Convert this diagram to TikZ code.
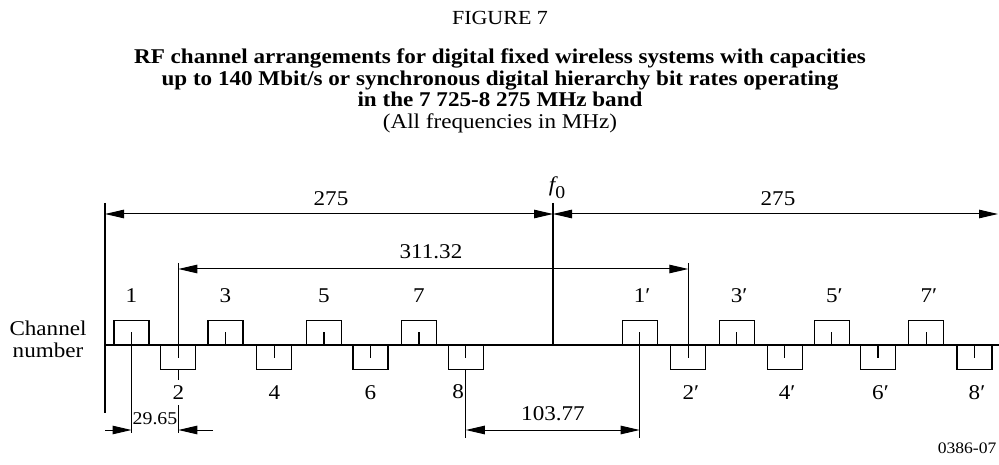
\documentclass[tikz,border=0pt]{standalone}
\usepackage{fontspec}
\setmainfont{Liberation Serif}[FakeStretch=1.1]
\usetikzlibrary{arrows.meta}
% prime that hangs to the right of the channel number
\newcommand\chpr{\rlap{\char"2032}}
\begin{document}
\begin{tikzpicture}[x=1pt,y=-1pt,line width=1.1pt,
  every node/.style={inner sep=0pt,font=\fontsize{21}{22}\selectfont},
  dimline/.style={{Triangle[length=19pt,width=8.5pt]}-{Triangle[length=19pt,width=8.5pt]},line width=1pt},
  onearrow/.style={-{Triangle[length=19pt,width=8.5pt]},line width=1pt},
  chbox/.style={draw,line width=1.1pt,minimum width=35pt,minimum height=24pt},
  upbox/.style={chbox,anchor=south},
  downbox/.style={chbox,anchor=north},
  smalltext/.style={font=\fontsize{18}{20}\selectfont},
  reftext/.style={font=\fontsize{16}{20}\selectfont}]
\useasboundingbox (0,0) rectangle (999,465);

% headings
\node[font=\fontsize{20}{22}\selectfont] (fig) at (500,18) {FIGURE 7};
\node[font=\fontsize{21}{21.5}\selectfont\bfseries,align=center] (title) at (500,78)
  {RF channel arrangements for digital fixed wireless systems with capacities\\
   up to 140 Mbit/s or synchronous digital hierarchy bit rates operating\\
   in the 7 725-8 275 MHz band};
\node (units) at (500,123) {(All frequencies in MHz)};

% frequency axis and reference lines
\coordinate (axL) at (105,345);
\coordinate (axR) at (999,345);
\coordinate (edgeTop) at (105,203);
\coordinate (edgeBot) at (105,413);
\coordinate (f0top) at (553,203);
\coordinate (f0bot) at (553,345);
\draw (axL) -- (axR);
\draw (edgeTop) -- (edgeBot);
\draw (f0top) -- (f0bot);
\node (f0) at (557,188) {\itshape f\raisebox{-7pt}{\upshape\fontsize{18}{20}\selectfont 0}};

% half-band dimensions
\coordinate (hL) at (105,214);
\coordinate (hM) at (553,214);
\coordinate (hR) at (998,214);
\draw[dimline] (hL) -- (hM);
\draw[dimline] (hM) -- (hR);
\node (hl) at (331,199) {275};
\node (hr) at (778,199) {275};

\node[align=center] (chn) at (48,339) {Channel\\number};

% go channels (above the axis)
\foreach \n/\x/\t in {1/131.5/1, 3/225.5/3, 5/324/5, 7/419/7,
                      1p/639.7/1\chpr, 3p/736.7/3\chpr, 5p/831.8/5\chpr, 7p/926.3/7\chpr}{
  \node[upbox] (c\n) at (\x,345) {};
  \draw (c\n.south) -- (c\n.center);
  \node (l\n) at (\x,296) {\t};
}
% return channels (below the axis)
\foreach \n/\x/\t in {2/178.3/2, 4/274.3/4, 6/370.5/6,
                      2p/688.3/2\chpr, 4p/784.7/4\chpr, 6p/878/6\chpr, 8p/974.5/8\chpr}{
  \node[downbox] (c\n) at (\x,345) {};
  \draw (c\n.north) -- (c\n.center);
  \node (l\n) at (\x,393) {\t};
}
\node[downbox] (c8) at (465.8,345) {};
\draw (c8.north) -- (c8.center);
\node[anchor=east] (l8) at (464.5,392) {8};

% 311.32 between channels 2 and 2'
\coordinate (t2) at (178.3,263);
\coordinate (t2p) at (688.3,263);
\coordinate (sL) at (178.3,269);
\coordinate (sR) at (688.3,269);
\draw (t2) -- (c2.center);
\draw (t2p) -- (c2p.center);
\draw[dimline] (sL) -- (sR);
\node (sv) at (431,252) {311.32};

% 29.65 channel spacing
\coordinate (e1) at (131.5,433);
\coordinate (u2) at (178.3,405);
\coordinate (e2) at (178.3,433);
\coordinate (a1) at (105,430);
\coordinate (a2) at (213,430);
\coordinate (p1) at (131.5,430);
\coordinate (p2) at (178.3,430);
\draw (c1.center) -- (e1);
\draw (c2.south) -- ++(0,10);
\draw (u2) -- (e2);
\draw[onearrow] (a1) -- (p1);
\draw[onearrow] (a2) -- (p2);
\node[smalltext] (sp) at (155,419) {29.65};

% 103.77 centre gap
\coordinate (e8) at (465.8,438);
\coordinate (e1p) at (639.7,438);
\coordinate (gL) at (465.8,430);
\coordinate (gR) at (639.7,430);
\draw (c8.south) -- (e8);
\draw (c1p.center) -- (e1p);
\draw[dimline] (gL) -- (gR);
\node (gv) at (553,414) {103.77};

\node[reftext,anchor=east] (ref) at (997,448) {0386-07};
\end{tikzpicture}
\end{document}
